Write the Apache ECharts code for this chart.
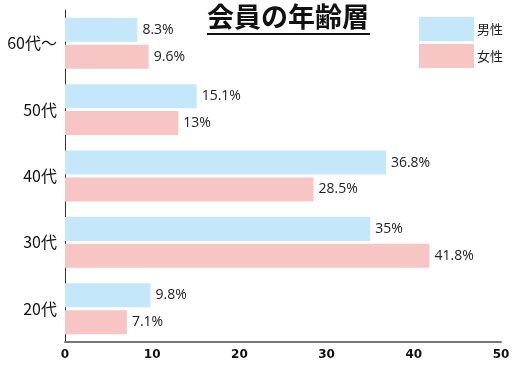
<!DOCTYPE html>
<html><head><meta charset="utf-8">
<script src="https://cdn.jsdelivr.net/npm/echarts@6/dist/echarts.min.js"></script>
<style>html,body{margin:0;padding:0;background:#fff}#c{width:515px;height:367px}</style>
</head><body><div id="c"></div>
<script>
var categories = ['20代', '30代', '40代', '50代', '60代〜'];
var male = [9.8, 35, 36.8, 15.1, 8.3];
var female = [7.1, 41.8, 28.5, 13, 9.6];
var xTicks = [0, 10, 20, 30, 40, 50];
var chart = echarts.init(document.getElementById('c'));
var lbl = function(p){ return p.value + '%'; };
chart.setOption({
  animation: false,
  title: {text: '会員の年齢層', left: 288, top: 3, textAlign: 'center', padding: 0,
    textStyle: {fontFamily: 'Noto Sans CJK JP', fontWeight: 'bold', fontSize: 27, color: '#111'}},
  graphic: [{type: 'rect', shape: {x: 207, y: 33, width: 163, height: 2}, style: {fill: '#111'}}],
  legend: {orient: 'vertical', left: 419, top: 17, padding: 0, itemWidth: 55, itemHeight: 24, itemGap: 3,
    icon: 'rect', textStyle: {fontFamily: 'Noto Sans CJK JP', fontSize: 13, color: '#222', padding: [0,0,0,-2]},
    data: ['男性', '女性']},
  grid: {left: 65, right: 14, top: 10, bottom: 25, containLabel: false},
  xAxis: {type: 'value', min: 0, max: 50, interval: 10,
    axisLine: {show: true, lineStyle: {color: '#777', width: 2}},
    axisTick: {show: false}, splitLine: {show: false},
    axisLabel: {fontFamily: 'DejaVu Sans', fontWeight: 'bold', fontSize: 12, color: '#111', margin: 7,
      formatter: function(v){ return xTicks.indexOf(v) >= 0 ? String(v) : ''; }}},
  yAxis: {type: 'category', data: categories,
    axisLine: {show: true, lineStyle: {color: '#333', width: 1}},
    axisTick: {show: false},
    axisLabel: {fontFamily: 'Noto Sans CJK JP', fontSize: 16, color: '#111', margin: 8}},
  series: [
    {name: '男性', type: 'bar', data: male, barWidth: 24, barGap: '12%',
     itemStyle: {color: '#c5e7fa'},
     label: {show: true, position: 'right', distance: 5, formatter: lbl,
       fontFamily: 'Open Sans', fontSize: 14, color: '#222'}},
    {name: '女性', type: 'bar', data: female, barWidth: 24,
     itemStyle: {color: '#f8c5c5'},
     label: {show: true, position: 'right', distance: 5, formatter: lbl,
       fontFamily: 'Open Sans', fontSize: 14, color: '#222'}}
  ]
});
</script></body></html>
